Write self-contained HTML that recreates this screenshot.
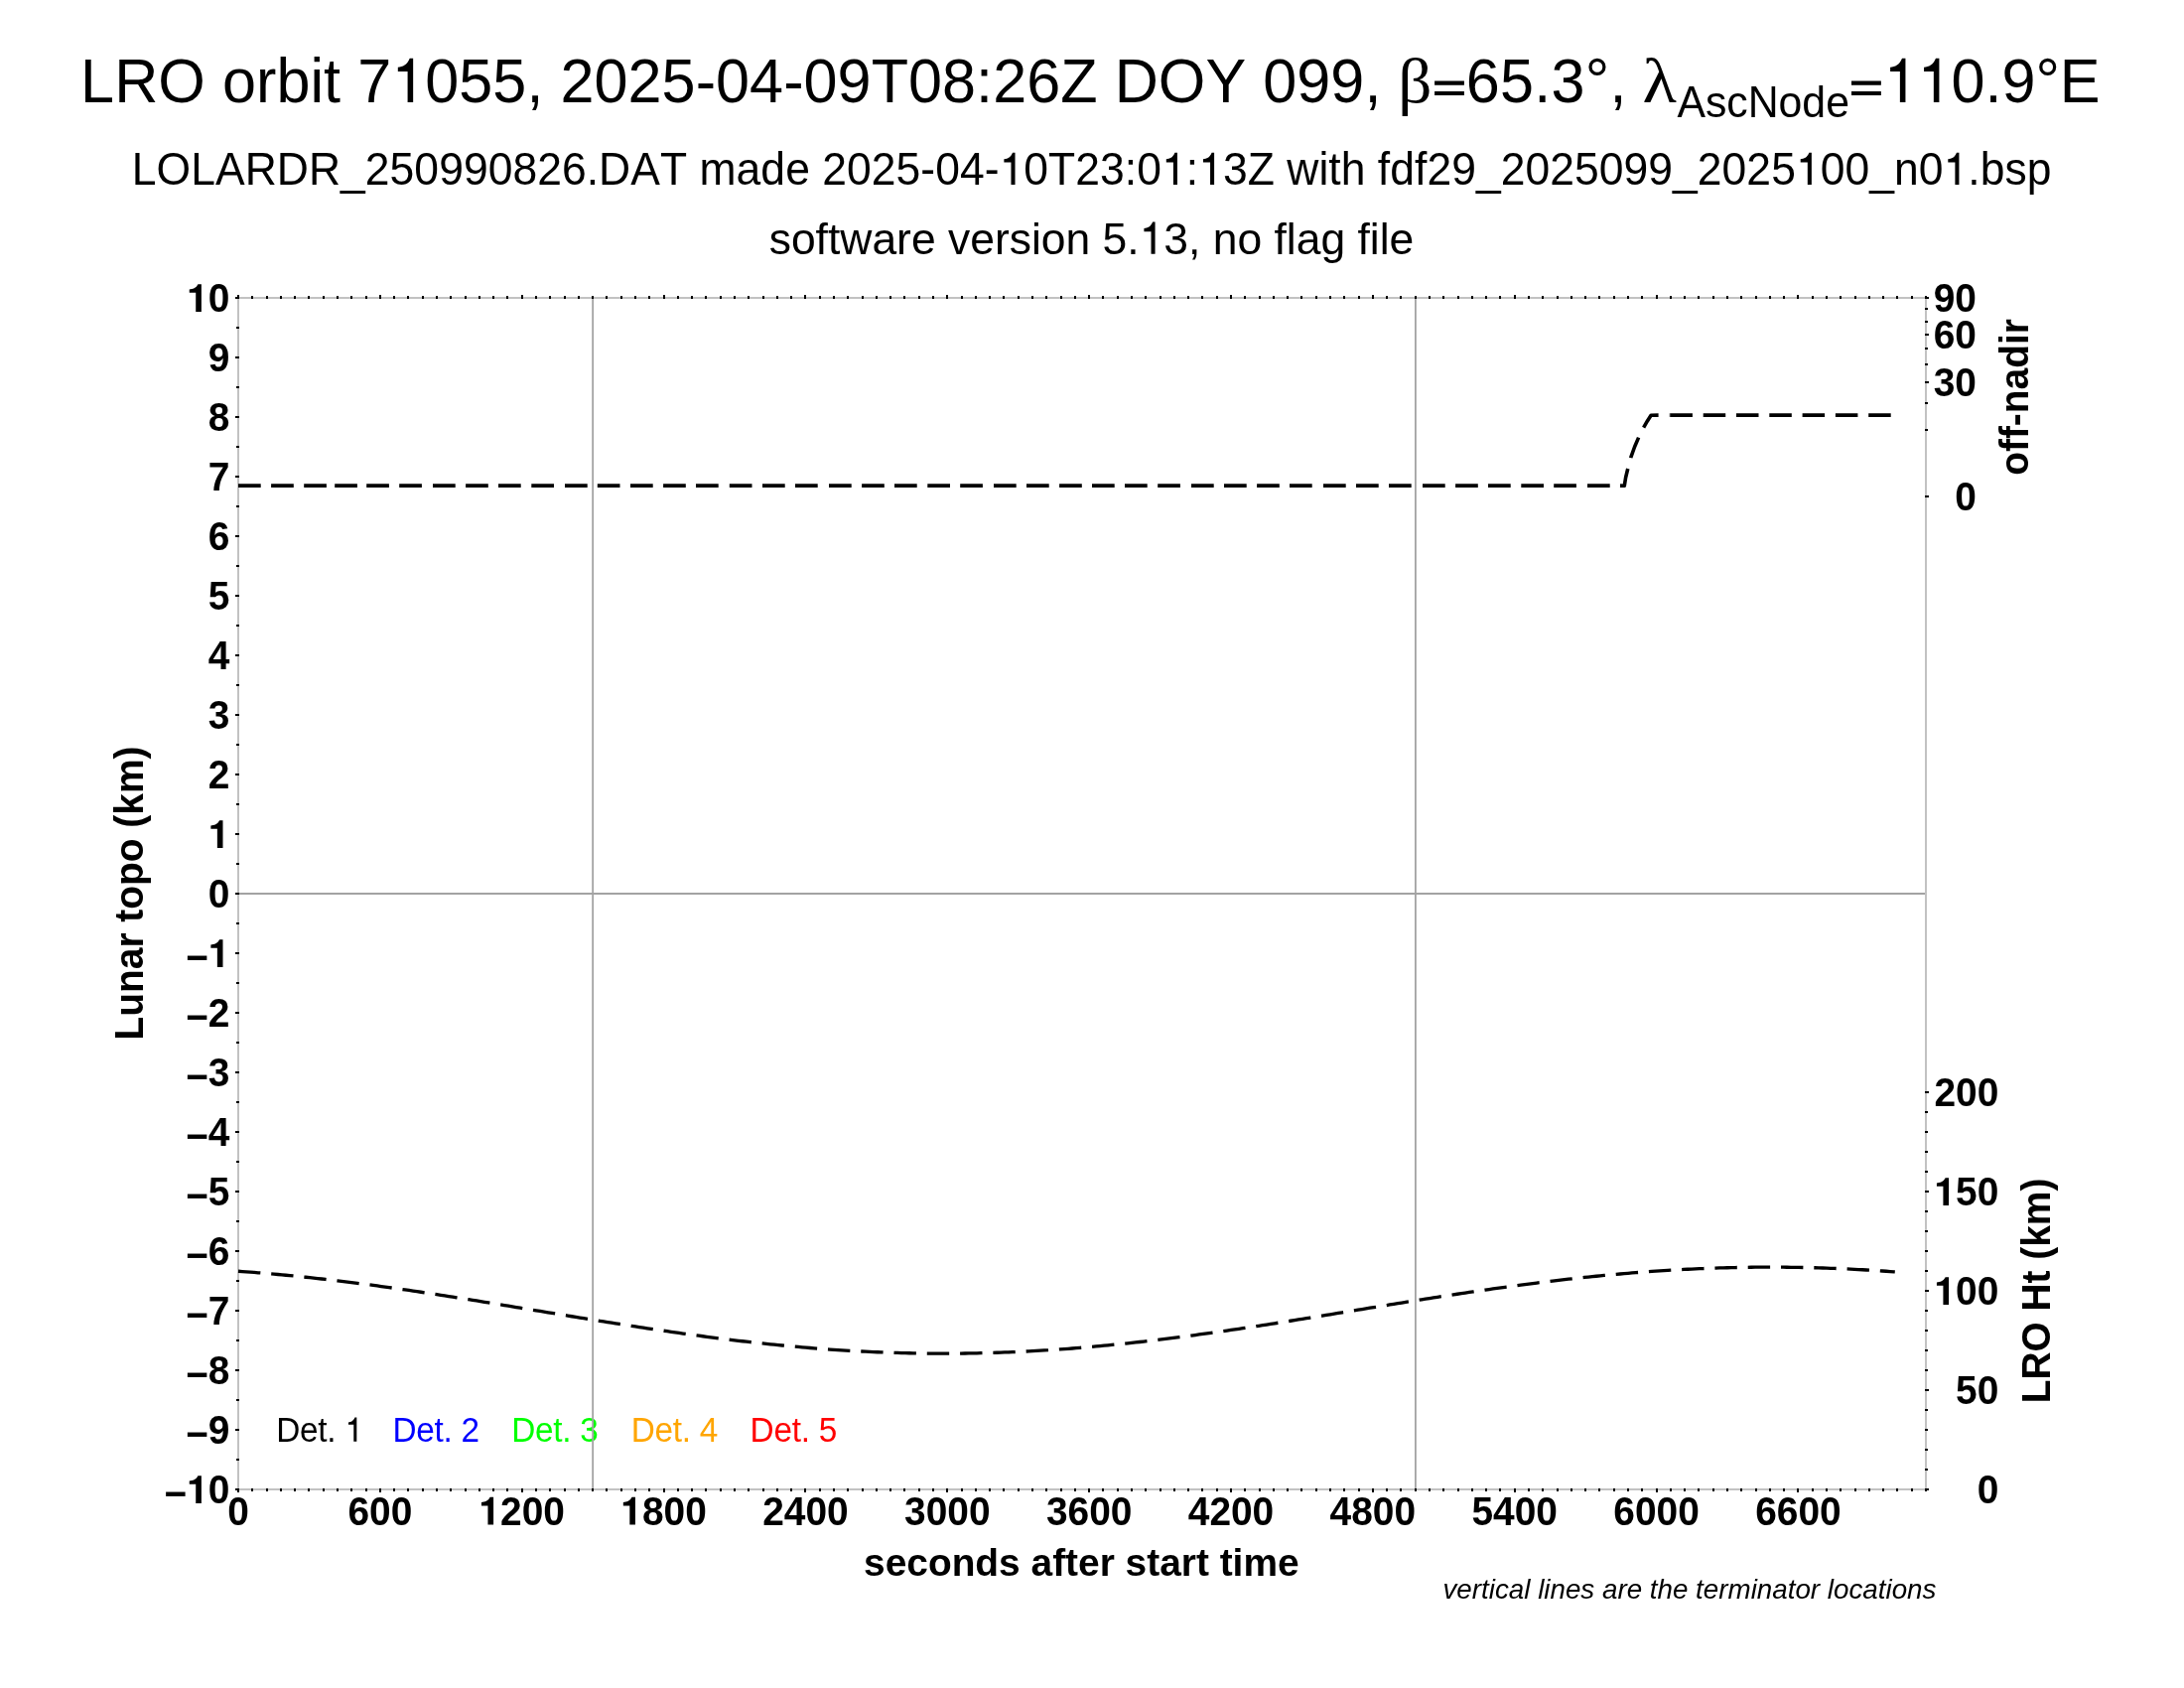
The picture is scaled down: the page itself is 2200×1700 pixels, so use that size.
<!DOCTYPE html>
<html><head><meta charset="utf-8"><title>LRO orbit 71055</title>
<style>html,body{margin:0;padding:0;background:#fff;overflow:hidden;}svg{display:block;will-change:transform;}text{font-family:"Liberation Sans",sans-serif;fill:#000;font-kerning:none;}.b text{font-weight:bold;font-size:38.89px;}.sym{font-family:"Liberation Serif",serif;}.h{fill:none;}</style></head><body>
<svg width="2200" height="1700" viewBox="0 0 2200 1700">
<rect width="2200" height="1700" fill="#fff"/>
<g transform="translate(81.1,103.2) scale(1.0,1.04)"><text font-size="61.11px" textLength="1310.3" lengthAdjust="spacing">LRO orbit 7<tspan class="h">1</tspan>055, 2025-04-09T08:26Z DOY 099,</text><path transform="translate(313.12,-0.19) scale(0.06111,-0.05876)" d="M359 0H268V507H108V577C190 583 258 612 303 723H359Z" fill="#000"/></g>
<g transform="translate(1408.3,103.2) scale(1.1,1.02)"><text font-size="61.11px" class="sym">β</text></g>
<path d="M1445.1 81.45H1474.9V85.7H1445.1ZM1445.1 92.05H1474.9V96.05H1445.1Z" fill="#000"/>
<g transform="translate(1476.7,103.2) scale(1.0,1.04)"><text font-size="61.11px" textLength="161.9" lengthAdjust="spacing">65.3°,</text></g>
<g transform="translate(1654.4,103.2) scale(1.16,1.04)"><text font-size="61.11px" class="sym">λ</text></g>
<g transform="translate(1689.4,118.2) scale(1.0,1.04)"><text font-size="42.78px">AscNode</text></g>
<path d="M1865.0 81.45H1894.85V85.7H1865.0ZM1865.0 92.05H1894.85V96.05H1865.0Z" fill="#000"/>
<g transform="translate(1897.5,103.2) scale(1.0,1.04)"><text font-size="61.11px"><tspan class="h">1</tspan><tspan class="h">1</tspan>0.9°E</text><path transform="translate(0.00,-0.19) scale(0.06111,-0.05876)" d="M359 0H268V507H108V577C190 583 258 612 303 723H359Z" fill="#000"/><path transform="translate(33.97,-0.19) scale(0.06111,-0.05876)" d="M359 0H268V507H108V577C190 583 258 612 303 723H359Z" fill="#000"/></g>
<g transform="translate(1099.6,186.2) scale(1.0,1.04)"><text font-size="44.44px" text-anchor="middle" textLength="1933.6" lengthAdjust="spacing">LOLARDR_250990826.DAT made 2025-04-<tspan class="h">1</tspan>0T23:0<tspan class="h">1</tspan>:<tspan class="h">1</tspan>3Z with fdf29_2025099_2025<tspan class="h">1</tspan>00_n0<tspan class="h">1</tspan>.bsp</text><path transform="translate(-93.03,-0.19) scale(0.04444,-0.04273)" d="M359 0H268V507H108V577C190 583 258 612 303 723H359Z" fill="#000"/><path transform="translate(70.39,-0.19) scale(0.04444,-0.04273)" d="M359 0H268V507H108V577C190 583 258 612 303 723H359Z" fill="#000"/><path transform="translate(107.55,-0.19) scale(0.04444,-0.04273)" d="M359 0H268V507H108V577C190 583 258 612 303 723H359Z" fill="#000"/><path transform="translate(709.30,-0.19) scale(0.04444,-0.04273)" d="M359 0H268V507H108V577C190 583 258 612 303 723H359Z" fill="#000"/><path transform="translate(857.89,-0.19) scale(0.04444,-0.04273)" d="M359 0H268V507H108V577C190 583 258 612 303 723H359Z" fill="#000"/></g>
<g transform="translate(1099.5,255.9)"><text font-size="44.44px" text-anchor="middle">software version 5.<tspan class="h">1</tspan>3, no flag file</text><path transform="translate(48.12,-0.20) scale(0.04444,-0.04444)" d="M359 0H268V507H108V577C190 583 258 612 303 723H359Z" fill="#000"/></g>
<g transform="translate(278.3,1451.9) scale(1.0,1.04)"><text font-size="33.33px" textLength="87.6" lengthAdjust="spacing" style="fill:#000">Det. <tspan class="h">1</tspan></text><path transform="translate(69.05,-0.19) scale(0.03333,-0.03205)" d="M359 0H268V507H108V577C190 583 258 612 303 723H359Z" fill="#000"/></g>
<g transform="translate(395.4,1451.9) scale(1.0,1.04)"><text font-size="33.33px" textLength="87.6" lengthAdjust="spacing" style="fill:#0000ff">Det. 2</text></g>
<g transform="translate(515.3,1451.9) scale(1.0,1.04)"><text font-size="33.33px" textLength="87.6" lengthAdjust="spacing" style="fill:#00ff00">Det. 3</text></g>
<g transform="translate(635.7,1451.9) scale(1.0,1.04)"><text font-size="33.33px" textLength="87.6" lengthAdjust="spacing" style="fill:#ffa500">Det. 4</text></g>
<g transform="translate(755.6,1451.9) scale(1.0,1.04)"><text font-size="33.33px" textLength="87.6" lengthAdjust="spacing" style="fill:#ff0000">Det. 5</text></g>
<g stroke="#a3a3a3" stroke-width="1.8" fill="none">
<line x1="240.0" y1="900" x2="1940.0" y2="900"/>
<line x1="597.15" y1="300.0" x2="597.15" y2="1500.0"/>
<line x1="1425.9" y1="300.0" x2="1425.9" y2="1500.0"/>
</g>
<rect x="240.0" y="300.0" width="1700.0" height="1200.0" stroke="#c2c2c2" stroke-width="2" fill="none"/>
<g stroke="#000" stroke-width="2" fill="none">
<path d="M240 1499v4M240 301v-4M254 1499v3M254 301v-3M269 1499v3M269 301v-3M283 1499v3M283 301v-3M297 1499v3M297 301v-3M311 1499v3M311 301v-3M326 1499v3M326 301v-3M340 1499v3M340 301v-3M354 1499v3M354 301v-3M369 1499v3M369 301v-3M383 1499v4M383 301v-4M397 1499v3M397 301v-3M411 1499v3M411 301v-3M426 1499v3M426 301v-3M440 1499v3M440 301v-3M454 1499v3M454 301v-3M469 1499v3M469 301v-3M483 1499v3M483 301v-3M497 1499v3M497 301v-3M511 1499v3M511 301v-3M526 1499v4M526 301v-4M540 1499v3M540 301v-3M554 1499v3M554 301v-3M569 1499v3M569 301v-3M583 1499v3M583 301v-3M597 1499v3M597 301v-3M611 1499v3M611 301v-3M626 1499v3M626 301v-3M640 1499v3M640 301v-3M654 1499v3M654 301v-3M669 1499v4M669 301v-4M683 1499v3M683 301v-3M697 1499v3M697 301v-3M711 1499v3M711 301v-3M726 1499v3M726 301v-3M740 1499v3M740 301v-3M754 1499v3M754 301v-3M769 1499v3M769 301v-3M783 1499v3M783 301v-3M797 1499v3M797 301v-3M811 1499v4M811 301v-4M826 1499v3M826 301v-3M840 1499v3M840 301v-3M854 1499v3M854 301v-3M869 1499v3M869 301v-3M883 1499v3M883 301v-3M897 1499v3M897 301v-3M911 1499v3M911 301v-3M926 1499v3M926 301v-3M940 1499v3M940 301v-3M954 1499v4M954 301v-4M969 1499v3M969 301v-3M983 1499v3M983 301v-3M997 1499v3M997 301v-3M1011 1499v3M1011 301v-3M1026 1499v3M1026 301v-3M1040 1499v3M1040 301v-3M1054 1499v3M1054 301v-3M1069 1499v3M1069 301v-3M1083 1499v3M1083 301v-3M1097 1499v4M1097 301v-4M1111 1499v3M1111 301v-3M1126 1499v3M1126 301v-3M1140 1499v3M1140 301v-3M1154 1499v3M1154 301v-3M1169 1499v3M1169 301v-3M1183 1499v3M1183 301v-3M1197 1499v3M1197 301v-3M1211 1499v3M1211 301v-3M1226 1499v3M1226 301v-3M1240 1499v4M1240 301v-4M1254 1499v3M1254 301v-3M1269 1499v3M1269 301v-3M1283 1499v3M1283 301v-3M1297 1499v3M1297 301v-3M1311 1499v3M1311 301v-3M1326 1499v3M1326 301v-3M1340 1499v3M1340 301v-3M1354 1499v3M1354 301v-3M1369 1499v3M1369 301v-3M1383 1499v4M1383 301v-4M1397 1499v3M1397 301v-3M1411 1499v3M1411 301v-3M1426 1499v3M1426 301v-3M1440 1499v3M1440 301v-3M1454 1499v3M1454 301v-3M1469 1499v3M1469 301v-3M1483 1499v3M1483 301v-3M1497 1499v3M1497 301v-3M1511 1499v3M1511 301v-3M1526 1499v4M1526 301v-4M1540 1499v3M1540 301v-3M1554 1499v3M1554 301v-3M1569 1499v3M1569 301v-3M1583 1499v3M1583 301v-3M1597 1499v3M1597 301v-3M1611 1499v3M1611 301v-3M1626 1499v3M1626 301v-3M1640 1499v3M1640 301v-3M1654 1499v3M1654 301v-3M1669 1499v4M1669 301v-4M1683 1499v3M1683 301v-3M1697 1499v3M1697 301v-3M1711 1499v3M1711 301v-3M1726 1499v3M1726 301v-3M1740 1499v3M1740 301v-3M1754 1499v3M1754 301v-3M1769 1499v3M1769 301v-3M1783 1499v3M1783 301v-3M1797 1499v3M1797 301v-3M1811 1499v4M1811 301v-4M1826 1499v3M1826 301v-3M1840 1499v3M1840 301v-3M1854 1499v3M1854 301v-3M1869 1499v3M1869 301v-3M1883 1499v3M1883 301v-3M1897 1499v3M1897 301v-3M1911 1499v3M1911 301v-3M1926 1499v3M1926 301v-3M1940 1499v3M1940 301v-3M241 1500h-4M241 1470h-3M241 1440h-4M241 1410h-3M241 1380h-4M241 1350h-3M241 1320h-4M241 1290h-3M241 1260h-4M241 1230h-3M241 1200h-4M241 1170h-3M241 1140h-4M241 1110h-3M241 1080h-4M241 1050h-3M241 1020h-4M241 990h-3M241 960h-4M241 930h-3M241 900h-4M241 870h-3M241 840h-4M241 810h-3M241 780h-4M241 750h-3M241 720h-4M241 690h-3M241 660h-4M241 630h-3M241 600h-4M241 570h-3M241 540h-4M241 510h-3M241 480h-4M241 450h-3M241 420h-4M241 390h-3M241 360h-4M241 330h-3M241 300h-4M1939 500h4M1939 433h3M1939 406h3M1939 385h4M1939 367h3M1939 351h3M1939 337h4M1939 324h3M1939 311h3M1939 300h4M1939 1500h4M1939 1480h3M1939 1460h3M1939 1440h3M1939 1420h3M1939 1400h4M1939 1380h3M1939 1360h3M1939 1340h3M1939 1320h3M1939 1300h4M1939 1280h3M1939 1260h3M1939 1240h3M1939 1220h3M1939 1200h4M1939 1180h3M1939 1160h3M1939 1140h3M1939 1120h3M1939 1100h4"/>
</g>
<g class="b">
<g transform="translate(231.5,1514.45) scale(1.0,1.04)"><text text-anchor="end"><tspan dy="3.2">−</tspan><tspan dy="-3.2"><tspan class="h">1</tspan>0</tspan></text><path transform="translate(-43.25,-0.48) scale(0.03889,-0.03739)" d="M376 0H231V491H64V580C150 584 240 610 288 712H376Z" fill="#000"/></g>
<g transform="translate(231.5,1454.45) scale(1.0,1.04)"><text text-anchor="end"><tspan dy="3.2">−</tspan><tspan dy="-3.2">9</tspan></text></g>
<g transform="translate(231.5,1394.45) scale(1.0,1.04)"><text text-anchor="end"><tspan dy="3.2">−</tspan><tspan dy="-3.2">8</tspan></text></g>
<g transform="translate(231.5,1334.45) scale(1.0,1.04)"><text text-anchor="end"><tspan dy="3.2">−</tspan><tspan dy="-3.2">7</tspan></text></g>
<g transform="translate(231.5,1274.45) scale(1.0,1.04)"><text text-anchor="end"><tspan dy="3.2">−</tspan><tspan dy="-3.2">6</tspan></text></g>
<g transform="translate(231.5,1214.45) scale(1.0,1.04)"><text text-anchor="end"><tspan dy="3.2">−</tspan><tspan dy="-3.2">5</tspan></text></g>
<g transform="translate(231.5,1154.45) scale(1.0,1.04)"><text text-anchor="end"><tspan dy="3.2">−</tspan><tspan dy="-3.2">4</tspan></text></g>
<g transform="translate(231.5,1094.45) scale(1.0,1.04)"><text text-anchor="end"><tspan dy="3.2">−</tspan><tspan dy="-3.2">3</tspan></text></g>
<g transform="translate(231.5,1034.45) scale(1.0,1.04)"><text text-anchor="end"><tspan dy="3.2">−</tspan><tspan dy="-3.2">2</tspan></text></g>
<g transform="translate(231.5,974.45) scale(1.0,1.04)"><text text-anchor="end"><tspan dy="3.2">−</tspan><tspan dy="-3.2"><tspan class="h">1</tspan></tspan></text><path transform="translate(-21.63,-0.48) scale(0.03889,-0.03739)" d="M376 0H231V491H64V580C150 584 240 610 288 712H376Z" fill="#000"/></g>
<g transform="translate(231.5,914.45) scale(1.0,1.04)"><text text-anchor="end">0</text></g>
<g transform="translate(231.5,854.45) scale(1.0,1.04)"><text text-anchor="end"><tspan class="h">1</tspan></text><path transform="translate(-21.63,-0.48) scale(0.03889,-0.03739)" d="M376 0H231V491H64V580C150 584 240 610 288 712H376Z" fill="#000"/></g>
<g transform="translate(231.5,794.45) scale(1.0,1.04)"><text text-anchor="end">2</text></g>
<g transform="translate(231.5,734.45) scale(1.0,1.04)"><text text-anchor="end">3</text></g>
<g transform="translate(231.5,674.45) scale(1.0,1.04)"><text text-anchor="end">4</text></g>
<g transform="translate(231.5,614.45) scale(1.0,1.04)"><text text-anchor="end">5</text></g>
<g transform="translate(231.5,554.45) scale(1.0,1.04)"><text text-anchor="end">6</text></g>
<g transform="translate(231.5,494.45) scale(1.0,1.04)"><text text-anchor="end">7</text></g>
<g transform="translate(231.5,434.45) scale(1.0,1.04)"><text text-anchor="end">8</text></g>
<g transform="translate(231.5,374.45) scale(1.0,1.04)"><text text-anchor="end">9</text></g>
<g transform="translate(231.5,314.45) scale(1.0,1.04)"><text text-anchor="end"><tspan class="h">1</tspan>0</text><path transform="translate(-43.25,-0.48) scale(0.03889,-0.03739)" d="M376 0H231V491H64V580C150 584 240 610 288 712H376Z" fill="#000"/></g>
<g transform="translate(240.0,1536.0) scale(1.0,1.04)"><text text-anchor="middle">0</text></g>
<g transform="translate(382.86,1536.0) scale(1.0,1.04)"><text text-anchor="middle">600</text></g>
<g transform="translate(525.71,1536.0) scale(1.0,1.04)"><text text-anchor="middle"><tspan class="h">1</tspan>200</text><path transform="translate(-43.24,-0.48) scale(0.03889,-0.03739)" d="M376 0H231V491H64V580C150 584 240 610 288 712H376Z" fill="#000"/></g>
<g transform="translate(668.57,1536.0) scale(1.0,1.04)"><text text-anchor="middle"><tspan class="h">1</tspan>800</text><path transform="translate(-43.24,-0.48) scale(0.03889,-0.03739)" d="M376 0H231V491H64V580C150 584 240 610 288 712H376Z" fill="#000"/></g>
<g transform="translate(811.43,1536.0) scale(1.0,1.04)"><text text-anchor="middle">2400</text></g>
<g transform="translate(954.29,1536.0) scale(1.0,1.04)"><text text-anchor="middle">3000</text></g>
<g transform="translate(1097.14,1536.0) scale(1.0,1.04)"><text text-anchor="middle">3600</text></g>
<g transform="translate(1240.0,1536.0) scale(1.0,1.04)"><text text-anchor="middle">4200</text></g>
<g transform="translate(1382.86,1536.0) scale(1.0,1.04)"><text text-anchor="middle">4800</text></g>
<g transform="translate(1525.71,1536.0) scale(1.0,1.04)"><text text-anchor="middle">5400</text></g>
<g transform="translate(1668.57,1536.0) scale(1.0,1.04)"><text text-anchor="middle">6000</text></g>
<g transform="translate(1811.43,1536.0) scale(1.0,1.04)"><text text-anchor="middle">6600</text></g>
<g transform="translate(1991.0,514.45) scale(1.0,1.04)"><text text-anchor="end">0</text></g>
<g transform="translate(1991.0,398.98) scale(1.0,1.04)"><text text-anchor="end">30</text></g>
<g transform="translate(1991.0,351.15) scale(1.0,1.04)"><text text-anchor="end">60</text></g>
<g transform="translate(1991.0,314.45) scale(1.0,1.04)"><text text-anchor="end">90</text></g>
<g transform="translate(2013.3,1514.45) scale(1.0,1.04)"><text text-anchor="end">0</text></g>
<g transform="translate(2013.3,1414.45) scale(1.0,1.04)"><text text-anchor="end">50</text></g>
<g transform="translate(2013.3,1314.45) scale(1.0,1.04)"><text text-anchor="end"><tspan class="h">1</tspan>00</text><path transform="translate(-64.86,-0.48) scale(0.03889,-0.03739)" d="M376 0H231V491H64V580C150 584 240 610 288 712H376Z" fill="#000"/></g>
<g transform="translate(2013.3,1214.45) scale(1.0,1.04)"><text text-anchor="end"><tspan class="h">1</tspan>50</text><path transform="translate(-64.86,-0.48) scale(0.03889,-0.03739)" d="M376 0H231V491H64V580C150 584 240 610 288 712H376Z" fill="#000"/></g>
<g transform="translate(2013.3,1114.45) scale(1.0,1.04)"><text text-anchor="end">200</text></g>
<g transform="translate(1089.3,1587)"><text text-anchor="middle">seconds after start time</text></g>
<g transform="translate(144,899.5) rotate(-90) scale(1.0,1.03)"><text text-anchor="middle">Lunar topo (km)</text></g>
<g transform="translate(2042.7,400) rotate(-90) scale(1.0,1.04)"><text text-anchor="middle">off-nadir</text></g>
<g transform="translate(2064.8,1300) rotate(-90) scale(1.0,1.04)"><text text-anchor="middle">LRO Ht (km)</text></g>
</g>
<g transform="translate(1950.4,1609.9)"><text font-size="27.78px" text-anchor="end" font-style="italic">vertical lines are the terminator locations</text></g>
<path d="M240.0 489.1h22.7M273.1 489.1h22.7M306.2 489.1h22.7M337.2 489.1h22.7M369.2 489.1h22.7M402.2 489.1h22.7M436.0 489.1h22.7M469.1 489.1h22.7M502.0 489.1h22.7M535.3 489.1h22.7M569.0 489.1h22.7M601.8 489.1h22.7M635.0 489.1h22.7M668.1 489.1h22.7M701.0 489.1h22.7M734.8 489.1h22.7M768.0 489.1h22.7M801.0 489.1h22.7M835.0 489.1h22.7M868.1 489.1h22.7M901.0 489.1h22.7M934.3 489.1h22.7M967.2 489.1h22.7M1001.0 489.1h22.7M1034.0 489.1h22.7M1067.1 489.1h22.7M1100.0 489.1h22.7M1133.0 489.1h22.7M1166.2 489.1h22.7M1200.0 489.1h22.7M1233.0 489.1h22.7M1266.1 489.1h22.7M1299.0 489.1h22.7M1333.0 489.1h22.7M1366.0 489.1h22.7M1399.0 489.1h22.7M1433.0 489.1h22.7M1466.1 489.1h22.7M1499.0 489.1h22.7M1532.3 489.1h22.7M1565.2 489.1h22.7M1599.0 489.1h22.7" fill="none" stroke="#000" stroke-width="3.6"/>
<path d="M1632.0 489.1 L1636.3 489.3 L1637.6 481.0 L1639.8 471.8 L1642.9 460.4 L1646.6 450.0 L1650.8 440.2 L1655.9 430.2 L1659.3 424.2 L1663.1 418.2 L1682.4 418.1" fill="none" stroke="#000" stroke-width="3.6" stroke-dasharray="22 11.2" stroke-linejoin="round"/>
<path d="M1682.4 418.1H1905.3" fill="none" stroke="#000" stroke-width="3.6" stroke-dasharray="22.5 10.8"/>
<path d="M240.0 1280.27 L244.0 1280.56 L248.0 1280.85 L252.0 1281.15 L256.0 1281.46 L260.0 1281.78 L264.0 1282.10 L268.0 1282.44 L272.0 1282.78 L276.0 1283.14 L280.0 1283.50 L284.0 1283.87 L288.0 1284.24 L292.0 1284.63 L296.0 1285.02 L300.0 1285.42 L304.0 1285.83 L308.0 1286.25 L312.0 1286.67 L316.0 1287.11 L320.0 1287.55 L324.0 1287.99 L328.0 1288.45 L332.0 1288.91 L336.0 1289.38 L340.0 1289.85 L344.0 1290.34 L348.0 1290.83 L352.0 1291.32 L356.0 1291.82 L360.0 1292.33 L364.0 1292.85 L368.0 1293.37 L372.0 1293.90 L376.0 1294.43 L380.0 1294.97 L384.0 1295.52 L388.0 1296.07 L392.0 1296.62 L396.0 1297.18 L400.0 1297.75 L404.0 1298.32 L408.0 1298.90 L412.0 1299.48 L416.0 1300.07 L420.0 1300.66 L424.0 1301.25 L428.0 1301.85 L432.0 1302.46 L436.0 1303.06 L440.0 1303.68 L444.0 1304.29 L448.0 1304.91 L452.0 1305.53 L456.0 1306.16 L460.0 1306.79 L464.0 1307.42 L468.0 1308.05 L472.0 1308.69 L476.0 1309.33 L480.0 1309.98 L484.0 1310.62 L488.0 1311.27 L492.0 1311.92 L496.0 1312.57 L500.0 1313.22 L504.0 1313.88 L508.0 1314.53 L512.0 1315.19 L516.0 1315.85 L520.0 1316.51 L524.0 1317.17 L528.0 1317.83 L532.0 1318.49 L536.0 1319.15 L540.0 1319.81 L544.0 1320.47 L548.0 1321.13 L552.0 1321.79 L556.0 1322.45 L560.0 1323.11 L564.0 1323.77 L568.0 1324.43 L572.0 1325.09 L576.0 1325.75 L580.0 1326.40 L584.0 1327.05 L588.0 1327.71 L592.0 1328.36 L596.0 1329.00 L600.0 1329.65 L604.0 1330.29 L608.0 1330.94 L612.0 1331.57 L616.0 1332.21 L620.0 1332.84 L624.0 1333.47 L628.0 1334.10 L632.0 1334.72 L636.0 1335.34 L640.0 1335.96 L644.0 1336.57 L648.0 1337.18 L652.0 1337.79 L656.0 1338.39 L660.0 1338.98 L664.0 1339.58 L668.0 1340.16 L672.0 1340.74 L676.0 1341.32 L680.0 1341.90 L684.0 1342.46 L688.0 1343.02 L692.0 1343.58 L696.0 1344.13 L700.0 1344.68 L704.0 1345.22 L708.0 1345.75 L712.0 1346.28 L716.0 1346.80 L720.0 1347.32 L724.0 1347.83 L728.0 1348.33 L732.0 1348.82 L736.0 1349.31 L740.0 1349.79 L744.0 1350.27 L748.0 1350.74 L752.0 1351.20 L756.0 1351.65 L760.0 1352.10 L764.0 1352.54 L768.0 1352.97 L772.0 1353.39 L776.0 1353.80 L780.0 1354.21 L784.0 1354.61 L788.0 1355.00 L792.0 1355.38 L796.0 1355.76 L800.0 1356.12 L804.0 1356.48 L808.0 1356.83 L812.0 1357.17 L816.0 1357.50 L820.0 1357.83 L824.0 1358.14 L828.0 1358.44 L832.0 1358.74 L836.0 1359.03 L840.0 1359.30 L844.0 1359.57 L848.0 1359.83 L852.0 1360.08 L856.0 1360.32 L860.0 1360.55 L864.0 1360.77 L868.0 1360.98 L872.0 1361.18 L876.0 1361.38 L880.0 1361.56 L884.0 1361.73 L888.0 1361.89 L892.0 1362.05 L896.0 1362.19 L900.0 1362.32 L904.0 1362.45 L908.0 1362.56 L912.0 1362.66 L916.0 1362.76 L920.0 1362.84 L924.0 1362.91 L928.0 1362.98 L932.0 1363.03 L936.0 1363.07 L940.0 1363.10 L944.0 1363.13 L948.0 1363.14 L952.0 1363.14 L956.0 1363.13 L960.0 1363.12 L964.0 1363.09 L968.0 1363.05 L972.0 1363.00 L976.0 1362.95 L980.0 1362.88 L984.0 1362.80 L988.0 1362.71 L992.0 1362.61 L996.0 1362.50 L1000.0 1362.39 L1004.0 1362.26 L1008.0 1362.12 L1012.0 1361.97 L1016.0 1361.82 L1020.0 1361.65 L1024.0 1361.47 L1028.0 1361.28 L1032.0 1361.09 L1036.0 1360.88 L1040.0 1360.67 L1044.0 1360.44 L1048.0 1360.21 L1052.0 1359.96 L1056.0 1359.71 L1060.0 1359.45 L1064.0 1359.18 L1068.0 1358.90 L1072.0 1358.61 L1076.0 1358.31 L1080.0 1358.00 L1084.0 1357.69 L1088.0 1357.36 L1092.0 1357.03 L1096.0 1356.68 L1100.0 1356.33 L1104.0 1355.97 L1108.0 1355.61 L1112.0 1355.23 L1116.0 1354.85 L1120.0 1354.45 L1124.0 1354.05 L1128.0 1353.65 L1132.0 1353.23 L1136.0 1352.81 L1140.0 1352.38 L1144.0 1351.94 L1148.0 1351.49 L1152.0 1351.04 L1156.0 1350.58 L1160.0 1350.11 L1164.0 1349.64 L1168.0 1349.16 L1172.0 1348.67 L1176.0 1348.17 L1180.0 1347.67 L1184.0 1347.16 L1188.0 1346.65 L1192.0 1346.13 L1196.0 1345.61 L1200.0 1345.07 L1204.0 1344.54 L1208.0 1343.99 L1212.0 1343.44 L1216.0 1342.89 L1220.0 1342.33 L1224.0 1341.77 L1228.0 1341.20 L1232.0 1340.62 L1236.0 1340.04 L1240.0 1339.46 L1244.0 1338.87 L1248.0 1338.28 L1252.0 1337.68 L1256.0 1337.08 L1260.0 1336.48 L1264.0 1335.87 L1268.0 1335.26 L1272.0 1334.64 L1276.0 1334.02 L1280.0 1333.40 L1284.0 1332.78 L1288.0 1332.15 L1292.0 1331.52 L1296.0 1330.89 L1300.0 1330.25 L1304.0 1329.61 L1308.0 1328.97 L1312.0 1328.33 L1316.0 1327.68 L1320.0 1327.04 L1324.0 1326.39 L1328.0 1325.74 L1332.0 1325.09 L1336.0 1324.44 L1340.0 1323.79 L1344.0 1323.13 L1348.0 1322.48 L1352.0 1321.82 L1356.0 1321.17 L1360.0 1320.51 L1364.0 1319.86 L1368.0 1319.20 L1372.0 1318.55 L1376.0 1317.89 L1380.0 1317.24 L1384.0 1316.58 L1388.0 1315.93 L1392.0 1315.28 L1396.0 1314.63 L1400.0 1313.98 L1404.0 1313.33 L1408.0 1312.68 L1412.0 1312.03 L1416.0 1311.39 L1420.0 1310.75 L1424.0 1310.11 L1428.0 1309.47 L1432.0 1308.84 L1436.0 1308.20 L1440.0 1307.57 L1444.0 1306.95 L1448.0 1306.32 L1452.0 1305.70 L1456.0 1305.08 L1460.0 1304.47 L1464.0 1303.86 L1468.0 1303.25 L1472.0 1302.64 L1476.0 1302.04 L1480.0 1301.45 L1484.0 1300.86 L1488.0 1300.27 L1492.0 1299.69 L1496.0 1299.11 L1500.0 1298.53 L1504.0 1297.96 L1508.0 1297.40 L1512.0 1296.84 L1516.0 1296.29 L1520.0 1295.74 L1524.0 1295.20 L1528.0 1294.66 L1532.0 1294.13 L1536.0 1293.60 L1540.0 1293.08 L1544.0 1292.56 L1548.0 1292.06 L1552.0 1291.55 L1556.0 1291.06 L1560.0 1290.57 L1564.0 1290.09 L1568.0 1289.61 L1572.0 1289.14 L1576.0 1288.68 L1580.0 1288.23 L1584.0 1287.78 L1588.0 1287.34 L1592.0 1286.90 L1596.0 1286.48 L1600.0 1286.06 L1604.0 1285.65 L1608.0 1285.24 L1612.0 1284.85 L1616.0 1284.46 L1620.0 1284.08 L1624.0 1283.71 L1628.0 1283.34 L1632.0 1282.99 L1636.0 1282.64 L1640.0 1282.30 L1644.0 1281.97 L1648.0 1281.65 L1652.0 1281.34 L1656.0 1281.03 L1660.0 1280.73 L1664.0 1280.45 L1668.0 1280.17 L1672.0 1279.90 L1676.0 1279.64 L1680.0 1279.39 L1684.0 1279.14 L1688.0 1278.91 L1692.0 1278.69 L1696.0 1278.47 L1700.0 1278.27 L1704.0 1278.07 L1708.0 1277.88 L1712.0 1277.70 L1716.0 1277.54 L1720.0 1277.38 L1724.0 1277.23 L1728.0 1277.09 L1732.0 1276.96 L1736.0 1276.84 L1740.0 1276.73 L1744.0 1276.62 L1748.0 1276.53 L1752.0 1276.45 L1756.0 1276.38 L1760.0 1276.32 L1764.0 1276.27 L1768.0 1276.22 L1772.0 1276.19 L1776.0 1276.17 L1780.0 1276.15 L1784.0 1276.15 L1788.0 1276.16 L1792.0 1276.17 L1796.0 1276.20 L1800.0 1276.23 L1804.0 1276.28 L1808.0 1276.34 L1812.0 1276.40 L1816.0 1276.48 L1820.0 1276.56 L1824.0 1276.66 L1828.0 1276.76 L1832.0 1276.88 L1836.0 1277.00 L1840.0 1277.13 L1844.0 1277.28 L1848.0 1277.43 L1852.0 1277.59 L1856.0 1277.76 L1860.0 1277.94 L1864.0 1278.14 L1868.0 1278.34 L1872.0 1278.55 L1876.0 1278.76 L1880.0 1278.99 L1884.0 1279.23 L1888.0 1279.48 L1892.0 1279.73 L1896.0 1280.00 L1900.0 1280.27 L1904.0 1280.56 L1908.0 1280.85 L1908.8 1280.91" fill="none" stroke="#000" stroke-width="3.3" stroke-dasharray="22.4 10.9"/>
</svg></body></html>
